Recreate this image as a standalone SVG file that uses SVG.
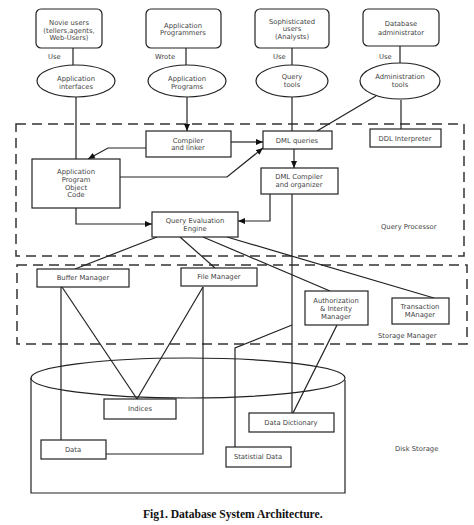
<svg xmlns="http://www.w3.org/2000/svg" width="474" height="525" viewBox="0 0 474 525">
<style>
.box{fill:#fff;stroke:#222;stroke-width:1.2}
.t{font-family:"DejaVu Sans",Verdana,sans-serif;font-size:6.8px;fill:#444;text-anchor:middle}
.tl{font-family:"DejaVu Sans",Verdana,sans-serif;font-size:6.8px;fill:#444}
.ln{stroke:#222;stroke-width:1.2;fill:none}
.dash{stroke:#333;stroke-width:1.5;stroke-dasharray:10 6;fill:none}
.cap{font-family:"Liberation Serif","Times New Roman",serif;font-size:11.6px;font-weight:bold;fill:#111}
</style>
<defs>
<marker id="arr" markerUnits="userSpaceOnUse" markerWidth="7" markerHeight="6" refX="7" refY="3" orient="auto">
<path d="M0,0 L7,3 L0,6 z" fill="#111"/>
</marker>
</defs>
<rect width="474" height="525" fill="#fff"/>

<!-- dashed regions -->
<g id="query-processor">
<rect class="dash" x="16" y="124" width="448" height="132"/>
<text class="tl" x="381" y="229">Query Processor</text>
</g>
<g id="storage-manager">
<rect class="dash" x="17" y="265" width="450" height="79"/>
<text class="tl" x="378" y="338">Storage Manager</text>
</g>

<!-- disk cylinder -->
<g id="disk-storage">
<path class="ln" d="M31,378 L31,493 L345,493 L345,380"/>
<ellipse class="ln" cx="188" cy="378" rx="157" ry="20"/>
<text class="tl" x="395" y="451">Disk Storage</text>
</g>

<!-- connectors -->
<g id="connectors">
<line class="ln" x1="73" y1="48" x2="73" y2="65"/>
<line class="ln" x1="186" y1="48" x2="186" y2="66"/>
<line class="ln" x1="292" y1="48" x2="292" y2="65"/>
<line class="ln" x1="400" y1="46" x2="400" y2="63"/>
<line class="ln" x1="76" y1="97" x2="76" y2="159"/>
<line class="ln" x1="187" y1="97" x2="187" y2="131" marker-end="url(#arr)"/>
<line class="ln" x1="292" y1="97" x2="292" y2="131"/>
<line class="ln" x1="376" y1="96" x2="317" y2="131"/>
<line class="ln" x1="401" y1="100" x2="401" y2="129"/>
<line class="ln" x1="231" y1="142" x2="263" y2="142" marker-end="url(#arr)"/>
<polyline class="ln" points="146,148 108,148 88,159" marker-end="url(#arr)"/>
<polyline class="ln" points="120,177 227,177 263,148" marker-end="url(#arr)"/>
<polyline class="ln" points="76,208 76,224 152,224" marker-end="url(#arr)"/>
<line class="ln" x1="294" y1="149" x2="294" y2="168" marker-end="url(#arr)"/>
<polyline class="ln" points="270,194 270,221 238,221" marker-end="url(#arr)"/>
<line class="ln" x1="292" y1="194" x2="292" y2="413"/>
<polyline class="ln" points="292,325 235,348 235,447"/>
<line class="ln" x1="157" y1="237" x2="75" y2="269"/>
<line class="ln" x1="180" y1="237" x2="215" y2="268"/>
<line class="ln" x1="203" y1="237" x2="330" y2="291"/>
<line class="ln" x1="227" y1="237" x2="434" y2="298"/>
<line class="ln" x1="337" y1="325" x2="293" y2="413"/>
<line class="ln" x1="61" y1="287" x2="61" y2="440"/>
<line class="ln" x1="62" y1="287" x2="137" y2="399"/>
<line class="ln" x1="203" y1="287" x2="137" y2="399"/>
<polyline class="ln" points="203,287 203,454 106,454"/>
</g>

<!-- top users -->
<g id="novice-users">
<rect class="box" x="36" y="9" width="66" height="39" rx="5"/>
<text class="t" x="69" y="25">Novie users</text>
<text class="t" x="69" y="33">(tellers,agents,</text>
<text class="t" x="69" y="40">Web-Users)</text>
<text class="tl" x="48" y="59">Use</text>
</g>
<g id="app-programmers">
<rect class="box" x="146" y="9" width="75" height="39" rx="5"/>
<text class="t" x="183" y="28">Application</text>
<text class="t" x="183" y="35">Programmers</text>
<text class="tl" x="155" y="59">Wrote</text>
</g>
<g id="sophisticated-users">
<rect class="box" x="255" y="9" width="74" height="39" rx="5"/>
<text class="t" x="292" y="24">Sophisticated</text>
<text class="t" x="292" y="31">users</text>
<text class="t" x="292" y="39">(Analysts)</text>
<text class="tl" x="273" y="59">Use</text>
</g>
<g id="db-admin">
<rect class="box" x="363" y="9" width="76" height="37" rx="5"/>
<text class="t" x="401" y="26">Database</text>
<text class="t" x="401" y="35">administrator</text>
<text class="tl" x="379" y="59">Use</text>
</g>

<!-- ellipses -->
<g id="app-interfaces">
<ellipse class="box" cx="76" cy="81" rx="39" ry="16"/>
<text class="t" x="76" y="81">Application</text>
<text class="t" x="76" y="89">interfaces</text>
</g>
<g id="app-programs">
<ellipse class="box" cx="187" cy="81" rx="39" ry="16"/>
<text class="t" x="187" y="81">Application</text>
<text class="t" x="187" y="89">Programs</text>
</g>
<g id="query-tools">
<ellipse class="box" cx="292" cy="81" rx="36" ry="16"/>
<text class="t" x="292" y="79">Query</text>
<text class="t" x="292" y="87">tools</text>
</g>
<g id="admin-tools">
<ellipse class="box" cx="400" cy="81" rx="40" ry="18"/>
<text class="t" x="400" y="79">Administration</text>
<text class="t" x="400" y="87">tools</text>
</g>

<!-- query processor boxes -->
<g id="compiler-linker">
<rect class="box" x="146" y="131" width="85" height="26"/>
<text class="t" x="188" y="143">Compiler</text>
<text class="t" x="188" y="150">and linker</text>
</g>
<g id="dml-queries">
<rect class="box" x="263" y="131" width="69" height="18"/>
<text class="t" x="297" y="143">DML queries</text>
</g>
<g id="ddl-interpreter">
<rect class="box" x="370" y="129" width="71" height="18"/>
<text class="t" x="405" y="141">DDL Interpreter</text>
</g>
<g id="apoc">
<rect class="box" x="32" y="159" width="88" height="49"/>
<text class="t" x="76" y="174">Application</text>
<text class="t" x="76" y="182">Program</text>
<text class="t" x="76" y="190">Object</text>
<text class="t" x="76" y="197">Code</text>
</g>
<g id="dml-compiler">
<rect class="box" x="261" y="168" width="77" height="26"/>
<text class="t" x="299" y="179">DML Compiler</text>
<text class="t" x="299" y="187">and organizer</text>
</g>
<g id="query-eval">
<rect class="box" x="152" y="212" width="86" height="25"/>
<text class="t" x="195" y="223">Query Evaluation</text>
<text class="t" x="195" y="231">Engine</text>
</g>

<!-- storage manager boxes -->
<g id="buffer-manager">
<rect class="box" x="37" y="269" width="92" height="18"/>
<text class="t" x="83" y="280">Buffer Manager</text>
</g>
<g id="file-manager">
<rect class="box" x="181" y="268" width="76" height="18"/>
<text class="t" x="219" y="279">File Manager</text>
</g>
<g id="auth-manager">
<rect class="box" x="305" y="291" width="63" height="34"/>
<text class="t" x="336" y="303">Authorization</text>
<text class="t" x="336" y="311">&amp; Interity</text>
<text class="t" x="336" y="319">Manager</text>
</g>
<g id="transaction-manager">
<rect class="box" x="392" y="298" width="57" height="26"/>
<text class="t" x="420" y="309">Transaction</text>
<text class="t" x="420" y="317">MAnager</text>
</g>

<!-- disk boxes -->
<g id="indices">
<rect class="box" x="104" y="399" width="72" height="20"/>
<text class="t" x="140" y="411">Indices</text>
</g>
<g id="data">
<rect class="box" x="41" y="440" width="65" height="19"/>
<text class="t" x="73" y="452">Data</text>
</g>
<g id="data-dictionary">
<rect class="box" x="249" y="413" width="85" height="19"/>
<text class="t" x="291" y="425">Data Dictionary</text>
</g>
<g id="statistical-data">
<rect class="box" x="226" y="447" width="65" height="20"/>
<text class="t" x="258" y="459">Statistial Data</text>
</g>

<text class="cap" x="143" y="518">Fig1. Database System Architecture.</text>
</svg>
